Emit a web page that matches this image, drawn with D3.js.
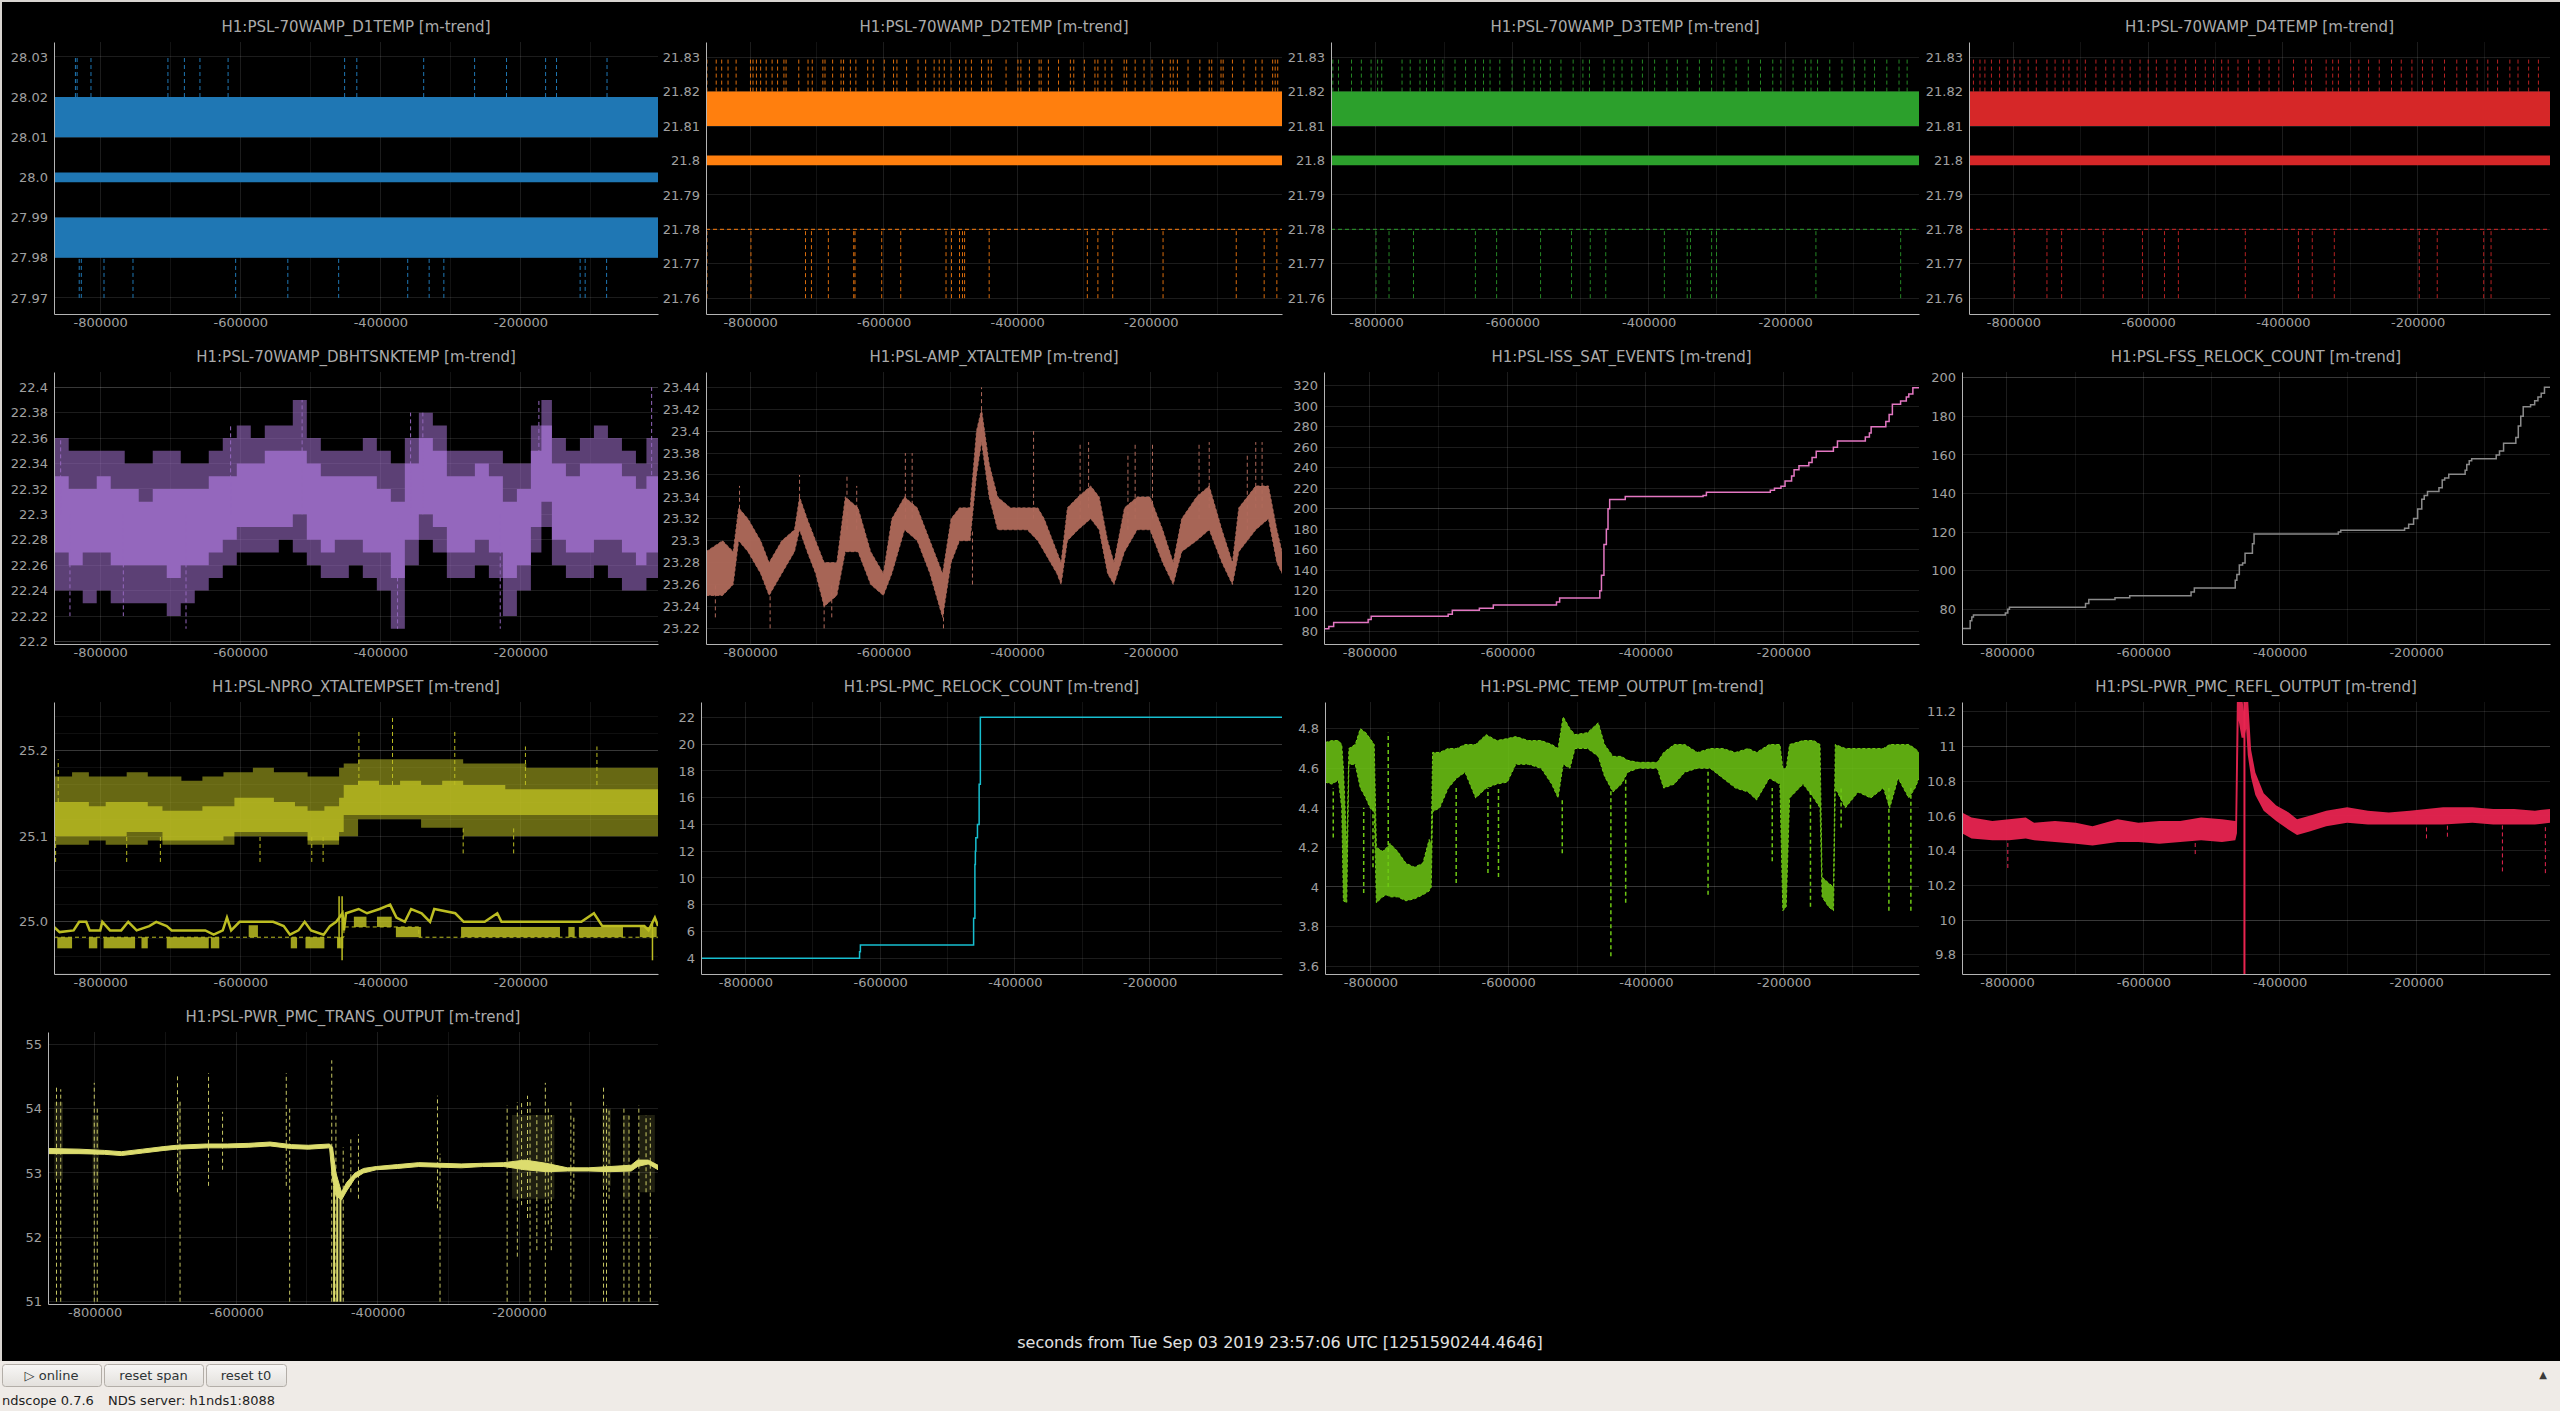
<!DOCTYPE html>
<html>
<head>
<meta charset="utf-8">
<script src="https://cdn.jsdelivr.net/npm/d3@7"></script>
<style>
  html, body { margin: 0; padding: 0; background: #efebe7; }
  svg { display: block; }
</style>
</head>
<body>
<svg id="scope" width="2560" height="1411"></svg>
<script>
// ---------- shared time axis (seconds from t0) ----------
const xDomain = [-866000, -3500];
const xTickVals = [-800000, -600000, -400000, -200000];
const xTickLabels = ["-800000", "-600000", "-400000", "-200000"];
const xGridVals = [-800000, -700000, -600000, -500000, -400000, -300000, -200000, -100000];

const titles = [
  "H1:PSL-70WAMP_D1TEMP [m-trend]", "H1:PSL-70WAMP_D2TEMP [m-trend]",
  "H1:PSL-70WAMP_D3TEMP [m-trend]", "H1:PSL-70WAMP_D4TEMP [m-trend]",
  "H1:PSL-70WAMP_DBHTSNKTEMP [m-trend]", "H1:PSL-AMP_XTALTEMP [m-trend]",
  "H1:PSL-ISS_SAT_EVENTS [m-trend]", "H1:PSL-FSS_RELOCK_COUNT [m-trend]",
  "H1:PSL-NPRO_XTALTEMPSET [m-trend]", "H1:PSL-PMC_RELOCK_COUNT [m-trend]",
  "H1:PSL-PMC_TEMP_OUTPUT [m-trend]", "H1:PSL-PWR_PMC_REFL_OUTPUT [m-trend]",
  "H1:PSL-PWR_PMC_TRANS_OUTPUT [m-trend]"
];
const colors = ["#1f77b4", "#ff7f0e", "#2ca02c", "#d62728", "#9467bd", "#b06a5b", "#e377c2",
                "#8a8a8a", "#bcbd22", "#17becf", "#6ec814", "#e82450", "#dcdc6e"];

// ---------- D1TEMP ----------
const d1Ticks = [27.97, 27.98, 27.99, 28.0, 28.01, 28.02, 28.03];
const d1Labels = ["27.97", "27.98", "27.99", "28.0", "28.01", "28.02", "28.03"];
const d1MaxBand = [28.01, 28.02];
const d1MinBand = [27.98, 27.99];
const d1MeanBand = [27.9988, 28.0012];
const d1MaxSpikeT = [-835400, -833000, -813200, -703300, -679800, -657600, -617400, -451000, -433600,
                     -338100, -265400, -219800, -164000, -148400, -76300];
const d1MinSpikeT = [-830000, -827000, -794600, -753200, -606600, -532100, -459500, -360900, -330300,
                     -309300, -114700, -107500, -76900];

// ---------- D2/D3/D4TEMP (same quantisation levels) ----------
const dTicks = [21.76, 21.77, 21.78, 21.79, 21.8, 21.81, 21.82, 21.83];
const dLabels = ["21.76", "21.77", "21.78", "21.79", "21.8", "21.81", "21.82", "21.83"];
const dMaxBand = [21.81, 21.82];
const dMeanBand = [21.7986, 21.8014];
const dMinLevel = [21.78, 21.78];
const dSpikeTop = 21.83, dSpikeBottom = 21.76;
const d2MaxSpikeT = [-864600, -850700, -842500, -833000, -820900, -799400, -795600, -790500, -784200, -775900,
  -767000, -758800, -749300, -746100, -727100, -713200, -706900, -691000, -687800, -676400, -663800, -660000,
  -649800, -641600, -623900, -615600, -599100, -585200, -580100, -565600, -548500, -537100, -524400, -516800,
  -509200, -499000, -486400, -476900, -468600, -453400, -443300, -438800, -416700, -398900, -394500, -381800,
  -367200, -364100, -353300, -338100, -320400, -315300, -299500, -283600, -279200, -268400, -258300, -239900,
  -236100, -223400, -210100, -198100, -182200, -170800, -166400, -160100, -144200, -126500, -112500, -108700,
  -94800, -91600, -77700, -60600, -42800, -33300, -17500, -13700, -9900];
const d2MinSpikeT = [-864600, -798700, -717000, -708100, -682800, -644800, -642900, -602900, -574400, -506600,
  -498400, -486400, -481900, -478800, -442000, -295000, -279200, -257000, -181600, -72000, -30200, -11200];
const d3MaxSpikeT = [-863300, -855000, -835900, -821500, -807200, -797600, -791600, -761800, -749800, -735500,
  -725900, -714000, -702000, -684100, -668600, -654200, -642300, -632700, -618400, -600400, -582500, -568200,
  -558600, -544300, -528700, -510800, -496500, -486900, -465400, -451000, -439100, -424800, -409200, -391300,
  -373400, -357900, -343500, -325600, -307700, -289700, -271800, -253900, -236000, -218000, -206100, -188200,
  -170200, -161900, -152300, -134400, -116500, -98500, -83000, -68700, -50700, -32800, -20900];
const d3MinSpikeT = [-800000, -780900, -745000, -654200, -623100, -558600, -513200, -485700, -463000, -377000,
  -343500, -338700, -307700, -300500, -154700, -30400];
const d4MaxSpikeT = [-859400, -849700, -842400, -832700, -820600, -808500, -798800, -790300, -778200, -766100,
  -750300, -738200, -726100, -717600, -705500, -693300, -677600, -663000, -650900, -638800, -626700, -612100,
  -600000, -587900, -572100, -560000, -544300, -529700, -515200, -503100, -490900, -481200, -466700, -450900,
  -435200, -420600, -406100, -384300, -366100, -357600, -335800, -326100, -317600, -299400, -287300, -272800,
  -257000, -238800, -224300, -208500, -192800, -178200, -160100, -141900, -127300, -111600, -95800, -81300,
  -63100, -51000, -35200, -20700];
const d4MinSpikeT = [-798800, -750300, -728500, -666700, -608500, -575800, -555200, -455800, -377000, -356400,
  -323700, -197600, -170900, -101900, -91000];

// ---------- DBHTSNKTEMP ----------
const p5Ticks = [22.2, 22.22, 22.24, 22.26, 22.28, 22.3, 22.32, 22.34, 22.36, 22.38, 22.4];
const p5Labels = ["22.2", "22.22", "22.24", "22.26", "22.28", "22.3", "22.32", "22.34", "22.36", "22.38", "22.4"];
const p5T = [-866000, -845000, -825000, -805000, -785000, -765000, -745000, -725000, -705000, -685000,
  -665000, -645000, -625000, -605000, -585000, -565000, -545000, -525000, -505000, -485000,
  -465000, -445000, -425000, -405000, -385000, -365000, -345000, -325000, -305000, -285000,
  -265000, -245000, -225000, -205000, -185000, -170000, -155000, -135000, -115000, -95000,
  -75000, -55000, -35000, -20000, -3500];
const p5CoreLo = [22.27, 22.26, 22.27, 22.27, 22.26, 22.26, 22.26, 22.26, 22.25, 22.26,
  22.26, 22.27, 22.28, 22.29, 22.29, 22.29, 22.29, 22.30, 22.28, 22.27,
  22.28, 22.28, 22.27, 22.27, 22.25, 22.28, 22.30, 22.29, 22.27, 22.27,
  22.28, 22.27, 22.25, 22.26, 22.29, 22.31, 22.28, 22.27, 22.27, 22.28,
  22.28, 22.27, 22.26, 22.27, 22.30];
const p5CoreHi = [22.33, 22.32, 22.32, 22.33, 22.32, 22.32, 22.31, 22.32, 22.32, 22.32,
  22.32, 22.33, 22.33, 22.34, 22.34, 22.35, 22.35, 22.35, 22.34, 22.33,
  22.33, 22.33, 22.33, 22.32, 22.31, 22.34, 22.36, 22.35, 22.33, 22.33,
  22.34, 22.33, 22.31, 22.32, 22.35, 22.37, 22.34, 22.33, 22.34, 22.34,
  22.34, 22.33, 22.32, 22.33, 22.36];
const p5Min = [22.24, 22.24, 22.23, 22.24, 22.23, 22.23, 22.23, 22.23, 22.22, 22.23,
  22.24, 22.25, 22.26, 22.27, 22.27, 22.27, 22.28, 22.27, 22.26, 22.25,
  22.25, 22.26, 22.25, 22.24, 22.21, 22.26, 22.28, 22.27, 22.25, 22.25,
  22.26, 22.25, 22.22, 22.24, 22.27, 22.29, 22.26, 22.25, 22.25, 22.26,
  22.25, 22.24, 22.24, 22.25, 22.28];
const p5Max = [22.36, 22.35, 22.35, 22.35, 22.35, 22.34, 22.34, 22.35, 22.35, 22.34,
  22.34, 22.35, 22.36, 22.37, 22.36, 22.37, 22.37, 22.39, 22.36, 22.35,
  22.35, 22.35, 22.36, 22.35, 22.34, 22.36, 22.38, 22.37, 22.35, 22.35,
  22.35, 22.35, 22.34, 22.34, 22.37, 22.39, 22.36, 22.35, 22.36, 22.37,
  22.36, 22.35, 22.34, 22.36, 22.40];
const p5SpikeT = [-856500, -843200, -767000, -677500, -613800, -511700, -375400, -356800, -339300, -228800, -173600, -12600];
const p5SpikeLo = [22.30, 22.30, 22.30, 22.30, 22.30, 22.30, 22.30, 22.30, 22.30, 22.30, 22.32, 22.32];
const p5SpikeHi = [22.36, 22.22, 22.22, 22.21, 22.37, 22.39, 22.21, 22.38, 22.38, 22.21, 22.39, 22.40];

// ---------- AMP_XTALTEMP ----------
const p6Ticks = [23.22, 23.24, 23.26, 23.28, 23.3, 23.32, 23.34, 23.36, 23.38, 23.4, 23.42, 23.44];
const p6Labels = ["23.22", "23.24", "23.26", "23.28", "23.3", "23.32", "23.34", "23.36", "23.38", "23.4", "23.42", "23.44"];
const p6T = [-866000, -841200, -825300, -817100, -803200, -784200, -771500, -752500, -733500, -725900,
  -714500, -701800, -689100, -670100, -657400, -638400, -619400, -600400, -587700, -568700,
  -549700, -530700, -511700, -499000, -486400, -470500, -461000, -453400, -442000, -429300,
  -410300, -385000, -369200, -359600, -340600, -334300, -324800, -308800, -289900, -277300,
  -264600, -255100, -239300, -220300, -201200, -182200, -166400, -153700, -131500, -112500,
  -93500, -77700, -68200, -42800, -23800, -11200, -3500];
const p6Lo = [23.25, 23.25, 23.26, 23.30, 23.29, 23.27, 23.25, 23.27, 23.29, 23.31,
  23.29, 23.27, 23.24, 23.25, 23.29, 23.29, 23.26, 23.25, 23.27, 23.31,
  23.30, 23.27, 23.23, 23.28, 23.30, 23.30, 23.36, 23.39, 23.34, 23.31,
  23.31, 23.31, 23.30, 23.29, 23.27, 23.26, 23.30, 23.31, 23.32, 23.31,
  23.27, 23.26, 23.29, 23.31, 23.31, 23.28, 23.26, 23.29, 23.30, 23.31,
  23.28, 23.26, 23.29, 23.31, 23.32, 23.28, 23.27];
const p6Hi = [23.29, 23.30, 23.29, 23.33, 23.32, 23.30, 23.28, 23.30, 23.31, 23.34,
  23.32, 23.30, 23.28, 23.28, 23.34, 23.33, 23.29, 23.27, 23.32, 23.34,
  23.33, 23.30, 23.27, 23.32, 23.33, 23.33, 23.40, 23.42, 23.37, 23.34,
  23.33, 23.33, 23.33, 23.32, 23.29, 23.28, 23.33, 23.34, 23.35, 23.34,
  23.30, 23.28, 23.33, 23.34, 23.34, 23.31, 23.28, 23.32, 23.34, 23.35,
  23.31, 23.28, 23.33, 23.35, 23.35, 23.31, 23.29];
const p6SpikeT = [-852000, -815800, -770000, -725900, -689100, -677700, -654900, -640300, -567500, -557300,
  -510400, -467000, -453400, -375500, -305800, -293100, -234200, -223400, -197400, -127700,
  -112500, -55500, -42800, -33300];
const p6SpikeLo = [23.23, 23.31, 23.22, 23.32, 23.22, 23.23, 23.31, 23.31, 23.32, 23.32,
  23.22, 23.26, 23.40, 23.32, 23.32, 23.33, 23.31, 23.32, 23.32, 23.32,
  23.33, 23.31, 23.33, 23.33];
const p6SpikeHi = [23.26, 23.35, 23.26, 23.36, 23.25, 23.26, 23.36, 23.35, 23.38, 23.38,
  23.25, 23.31, 23.44, 23.40, 23.39, 23.39, 23.38, 23.39, 23.39, 23.39,
  23.39, 23.38, 23.39, 23.39];

// ---------- ISS_SAT_EVENTS (step counter) ----------
const p7Ticks = [80, 100, 120, 140, 160, 180, 200, 220, 240, 260, 280, 300, 320];
const p7T = [-866000, -859000, -852000, -802000, -797600, -686000, -680000, -640800, -620600, -529000,
  -524400, -466200, -463800, -460200, -456700, -454300, -451900, -429300, -316500, -311700,
  -219000, -213000, -203600, -197700, -188200, -184600, -177500, -163200, -158500, -152500,
  -127600, -121700, -81300, -75400, -72900, -51600, -46800, -42100, -30200, -21900,
  -18300, -12400, -3500];
const p7V = [83, 85, 89, 92, 95, 97, 101, 103, 106, 109,
  113, 120, 135, 165, 180, 200, 209, 212, 213, 216,
  218, 220, 222, 227, 232, 238, 242, 245, 250, 256,
  260, 266, 270, 274, 280, 285, 292, 302, 305, 309,
  312, 318, 318];

// ---------- FSS_RELOCK_COUNT (step counter) ----------
const p8Ticks = [80, 100, 120, 140, 160, 180, 200];
const p8T = [-866000, -854000, -851600, -849200, -802400, -798800, -796400, -684800, -680000, -641600,
  -620000, -530000, -525200, -465200, -462800, -459200, -454400, -450800, -440000, -437600,
  -314000, -310400, -216800, -210800, -203600, -197600, -191600, -188000, -183200, -166400,
  -161600, -158000, -152000, -128000, -125600, -122000, -118400, -82400, -77600, -71600,
  -53600, -50000, -46400, -42800, -32000, -26000, -21200, -16400, -11600, -3500];
const p8V = [70, 74, 76, 77, 78, 80, 81, 83, 85, 86,
  87, 89, 91, 95, 98, 103, 104, 109, 114, 119,
  120, 121, 122, 124, 127, 132, 137, 139, 141, 143,
  147, 148, 150, 152, 155, 157, 158, 160, 162, 166,
  169, 175, 180, 185, 186, 188, 190, 192, 195, 195];

// ---------- NPRO_XTALTEMPSET ----------
const p9Ticks = [25.0, 25.1, 25.2];
const p9Labels = ["25.0", "25.1", "25.2"];
const p9Minor = [24.94, 24.96, 24.98, 25.02, 25.04, 25.06, 25.08, 25.12, 25.14, 25.16, 25.18, 25.22, 25.24];
const p9UT = [-866000, -840200, -816200, -792200, -762200, -732100, -711100, -684100, -654100, -624000,
  -608400, -582000, -552000, -521900, -503900, -479900, -458900, -452300, -431800, -401800,
  -371800, -341800, -311700, -281700, -251700, -221600, -191600, -161600, -131600, -101500,
  -71500, -41500, -3500];
const p9OutLo = [25.09, 25.09, 25.095, 25.09, 25.09, 25.095, 25.09, 25.09, 25.09, 25.09,
  25.10, 25.10, 25.10, 25.10, 25.09, 25.09, 25.10, 25.10, 25.12, 25.12,
  25.12, 25.11, 25.11, 25.10, 25.10, 25.10, 25.10, 25.10, 25.10, 25.10,
  25.10, 25.10, 25.10];
const p9OutHi = [25.17, 25.175, 25.17, 25.17, 25.175, 25.17, 25.17, 25.165, 25.17, 25.175,
  25.175, 25.18, 25.175, 25.175, 25.17, 25.17, 25.18, 25.185, 25.19, 25.19,
  25.19, 25.19, 25.19, 25.185, 25.185, 25.185, 25.18, 25.18, 25.18, 25.18,
  25.18, 25.18, 25.18];
const p9CoreLo = [25.10, 25.10, 25.10, 25.10, 25.105, 25.105, 25.095, 25.095, 25.095, 25.10,
  25.105, 25.105, 25.105, 25.105, 25.095, 25.095, 25.105, 25.125, 25.125, 25.125,
  25.125, 25.125, 25.125, 25.125, 25.125, 25.125, 25.125, 25.125, 25.125, 25.125,
  25.125, 25.125, 25.125];
const p9CoreHi = [25.14, 25.14, 25.135, 25.14, 25.14, 25.135, 25.13, 25.13, 25.135, 25.135,
  25.145, 25.145, 25.14, 25.135, 25.13, 25.135, 25.145, 25.16, 25.165, 25.16,
  25.165, 25.16, 25.165, 25.16, 25.16, 25.155, 25.155, 25.155, 25.155, 25.155,
  25.155, 25.155, 25.155];
const p9USpikeT = [-863700, -860000, -762200, -714100, -571800, -497900, -481700, -430600, -382600, -293700,
  -281700, -209600, -192800, -90700];
const p9USpikeLo = [25.07, 25.14, 25.07, 25.07, 25.07, 25.07, 25.07, 25.16, 25.16, 25.16, 25.08, 25.08, 25.16, 25.16];
const p9USpikeHi = [25.10, 25.19, 25.10, 25.10, 25.10, 25.10, 25.10, 25.225, 25.24, 25.225, 25.11, 25.11, 25.205, 25.205];
const p9MeanT = [-866000, -858000, -838000, -830000, -820000, -815000, -800000, -797000, -786000, -770000,
  -760000, -748000, -730000, -720000, -705000, -698000, -680000, -650000, -638000, -625000,
  -619000, -613000, -601000, -577000, -553000, -538000, -529000, -517000, -508000, -499000,
  -481000, -472000, -463000, -454000, -452000, -449000, -431000, -419000, -401000, -386000,
  -377000, -365000, -356000, -341000, -329000, -323000, -293000, -281000, -251000, -233000,
  -227000, -161000, -113000, -95000, -83000, -23000, -17000, -8000, -3500];
const p9Mean = [24.994, 24.988, 24.99, 25.0, 25.0, 24.99, 24.99, 25.0, 24.99, 24.99,
  25.0, 24.99, 24.995, 25.0, 24.995, 24.99, 24.99, 24.99, 24.985, 24.99,
  25.005, 24.99, 25.0, 25.0, 25.0, 24.995, 24.985, 24.99, 25.0, 24.99,
  24.985, 24.995, 25.0, 25.01, 24.99, 25.01, 25.015, 25.01, 25.015, 25.02,
  25.005, 25.0, 25.015, 25.01, 25.0, 25.015, 25.01, 25.0, 25.0, 25.01,
  25.0, 25.0, 25.0, 25.01, 24.995, 24.995, 24.99, 25.005, 24.995];
const p9BlockStart = [-861300, -816200, -795200, -741100, -705100, -642000, -588000, -527900, -506900, -461900,
  -437800, -404800, -377800, -284700, -131500, -116500, -29400];
const p9BlockEnd = [-840200, -804200, -750200, -732100, -645000, -630000, -574800, -518900, -479900, -452900,
  -419800, -383800, -341800, -143500, -122500, -53500, -5400];
const p9BlockLo = [24.969, 24.969, 24.969, 24.969, 24.969, 24.969, 24.982, 24.969, 24.969, 24.969,
  24.994, 24.994, 24.982, 24.982, 24.982, 24.982, 24.982];
const p9BlockHi = [24.982, 24.982, 24.982, 24.982, 24.982, 24.982, 24.996, 24.982, 24.982, 24.982,
  25.006, 25.006, 24.994, 24.994, 24.994, 24.994, 24.994];
const p9MinT = [-866000, -452000, -345000, -3500];
const p9MinV = [24.982, 24.994, 24.982, 24.982];
const p9LSpikeT = [-458900, -454600, -11400];
const p9LSpikeLo = [24.97, 24.955, 24.955];
const p9LSpikeHi = [25.03, 25.03, 25.0];

// ---------- PMC_RELOCK_COUNT (step counter) ----------
const p10Ticks = [4, 6, 8, 10, 12, 14, 16, 18, 20, 22];
const p10T = [-866000, -630600, -629400, -461300, -459400, -458700, -458000, -455600, -453100, -451300, -3500];
const p10V = [4, 4.5, 5, 7, 11, 12, 13, 14, 17, 22, 22];

// ---------- PMC_TEMP_OUTPUT ----------
const p11Ticks = [3.6, 3.8, 4.0, 4.2, 4.4, 4.6, 4.8];
const p11Labels = ["3.6", "3.8", "4", "4.2", "4.4", "4.6", "4.8"];
const p11T = [-866000, -855800, -846600, -841700, -839300, -834400, -831300, -822100, -814700, -806700,
  -800600, -794500, -791400, -782200, -776100, -771800, -760700, -748500, -736200, -723900,
  -714700, -711700, -709800, -699400, -687100, -674800, -662600, -647200, -631900, -616600,
  -601200, -589000, -570600, -552100, -536800, -527600, -520200, -510400, -503000, -484700,
  -469300, -460100, -447800, -435600, -426400, -411000, -383400, -374200, -358900, -343600,
  -325200, -306700, -288300, -269900, -251500, -239300, -220900, -205500, -201200, -196300,
  -191400, -171800, -156400, -147200, -144200, -134900, -127600, -125100, -110400, -92000,
  -73600, -55200, -46000, -33800, -18400, -9200, -3500];
const p11Lo = [4.53, 4.52, 4.54, 4.40, 3.93, 3.92, 4.62, 4.62, 4.50, 4.45,
  4.40, 4.38, 3.92, 3.95, 3.96, 3.95, 3.95, 3.93, 3.94, 3.96,
  3.98, 4.00, 4.38, 4.40, 4.50, 4.55, 4.58, 4.45, 4.50, 4.52,
  4.53, 4.62, 4.62, 4.60, 4.52, 4.45, 4.62, 4.60, 4.70, 4.70,
  4.66, 4.56, 4.48, 4.52, 4.58, 4.60, 4.60, 4.50, 4.52, 4.58,
  4.60, 4.60, 4.55, 4.50, 4.48, 4.44, 4.55, 4.52, 3.88, 3.90,
  4.45, 4.52, 4.45, 4.40, 3.95, 3.90, 3.88, 4.50, 4.40, 4.48,
  4.45, 4.50, 4.40, 4.55, 4.45, 4.50, 4.55];
const p11Hi = [4.73, 4.74, 4.74, 4.72, 4.60, 4.20, 4.70, 4.72, 4.80, 4.78,
  4.75, 4.72, 4.20, 4.18, 4.20, 4.22, 4.18, 4.12, 4.10, 4.12,
  4.24, 4.22, 4.68, 4.68, 4.70, 4.70, 4.72, 4.72, 4.77, 4.74,
  4.75, 4.76, 4.74, 4.74, 4.72, 4.70, 4.86, 4.80, 4.77, 4.78,
  4.83, 4.72, 4.66, 4.66, 4.64, 4.63, 4.63, 4.68, 4.72, 4.72,
  4.68, 4.70, 4.70, 4.68, 4.70, 4.68, 4.72, 4.72, 4.60, 4.60,
  4.72, 4.74, 4.74, 4.72, 4.05, 4.02, 4.00, 4.72, 4.70, 4.70,
  4.70, 4.70, 4.72, 4.72, 4.72, 4.70, 4.68];
const p11SpikeT = [-854000, -809800, -796300, -774200, -675500, -629400, -614100, -521500, -450900, -429400,
  -309800, -216600, -161100, -116600, -47200, -15300];
const p11SpikeLo = [4.25, 3.97, 4.10, 4.00, 4.02, 4.07, 4.05, 4.17, 3.65, 3.92, 3.96, 4.13, 3.90, 4.30, 3.88, 3.88];
const p11SpikeHi = [4.50, 4.40, 4.40, 4.78, 4.50, 4.50, 4.50, 4.45, 4.50, 4.55, 4.60, 4.50, 4.50, 4.50, 4.50, 4.50];

// ---------- PWR_PMC_REFL_OUTPUT ----------
const p12Ticks = [9.8, 10.0, 10.2, 10.4, 10.6, 10.8, 11.0, 11.2];
const p12Labels = ["9.8", "10", "10.2", "10.4", "10.6", "10.8", "11", "11.2"];
const p12T = [-866000, -852000, -821400, -797000, -772500, -760200, -729600, -699000, -674500, -637800,
  -607200, -576500, -545900, -515300, -484700, -465100, -462700, -460200, -455900, -452300,
  -449200, -446800, -441900, -435700, -423500, -405100, -386800, -374500, -356200, -331700,
  -301100, -270500, -239900, -209300, -160300, -117400, -86800, -56200, -25600, -3500];
const p12Lo = [10.50, 10.47, 10.46, 10.46, 10.47, 10.46, 10.45, 10.44, 10.43, 10.45,
  10.45, 10.44, 10.45, 10.46, 10.45, 10.46, 10.50, 11.15, 11.05, 11.05,
  11.10, 10.95, 10.82, 10.72, 10.63, 10.57, 10.52, 10.49, 10.51, 10.54,
  10.56, 10.55, 10.55, 10.55, 10.55, 10.56, 10.55, 10.55, 10.55, 10.56];
const p12Hi = [10.62, 10.59, 10.57, 10.58, 10.59, 10.56, 10.57, 10.56, 10.54, 10.58,
  10.56, 10.57, 10.57, 10.59, 10.58, 10.57, 11.30, 11.30, 11.30, 11.20,
  11.30, 11.30, 10.98, 10.85, 10.73, 10.66, 10.62, 10.58, 10.60, 10.63,
  10.65, 10.63, 10.62, 10.63, 10.65, 10.65, 10.64, 10.64, 10.63, 10.64];
const p12SpikeT = [-798800, -523900, -184700, -154000, -73300, -10300];
const p12SpikeLo = [10.30, 10.38, 10.47, 10.48, 10.28, 10.27];
const p12SpikeHi = [10.46, 10.45, 10.55, 10.55, 10.55, 10.55];
const p12DropT = [-451700];
const p12DropLo = [9.6];
const p12DropHi = [11.3];

// ---------- PWR_PMC_TRANS_OUTPUT ----------
const p13Ticks = [51, 52, 53, 54, 55];
const p13T = [-866000, -822200, -786200, -762200, -732100, -702100, -684100, -642000, -612000, -582000,
  -552000, -521900, -497900, -467900, -463700, -458900, -451000, -443800, -431800, -419800,
  -401800, -371800, -341800, -311700, -281700, -251700, -221600, -191600, -161600, -131600,
  -101500, -71500, -41500, -32400, -17400, -3500];
const p13Lo = [53.30, 53.30, 53.29, 53.27, 53.31, 53.35, 53.37, 53.39, 53.39, 53.40,
  53.42, 53.38, 53.37, 53.39, 52.90, 52.65, 52.58, 52.72, 52.92, 53.00,
  53.05, 53.07, 53.10, 53.09, 53.08, 53.10, 53.10, 53.05, 53.02, 53.03,
  53.03, 53.02, 53.03, 53.10, 53.14, 53.05];
const p13Hi = [53.38, 53.37, 53.35, 53.33, 53.37, 53.41, 53.43, 53.45, 53.45, 53.46,
  53.48, 53.44, 53.43, 53.45, 53.40, 53.00, 52.70, 52.85, 53.00, 53.07,
  53.10, 53.13, 53.16, 53.15, 53.14, 53.15, 53.16, 53.20, 53.15, 53.08,
  53.08, 53.10, 53.12, 53.20, 53.20, 53.12];
const p13SpikeT = [-854000, -848000, -800600, -796400, -682900, -679300, -639000, -619200, -529100, -524300,
  -464800, -458900, -448600, -437800, -427000, -315300, -311700, -216800, -202400, -196400,
  -188000, -184400, -174800, -162800, -158600, -154400, -126700, -122500, -80500, -76300,
  -72700, -51700, -44500, -30600, -20400, -14400];
const p13SpikeLo = [51.0, 51.0, 51.0, 51.0, 52.7, 51.0, 52.8, 53.05, 52.8, 51.0,
  51.0, 51.0, 51.0, 52.7, 52.6, 52.45, 51.0, 51.0, 51.7, 52.5,
  52.3, 51.0, 51.8, 51.0, 52.2, 51.8, 51.0, 52.6, 51.0, 51.0,
  52.6, 51.0, 51.0, 51.0, 52.7, 51.0];
const p13SpikeHi = [54.35, 54.3, 54.4, 54.0, 54.5, 54.15, 54.55, 53.95, 54.55, 54.0,
  54.75, 53.9, 53.4, 53.55, 53.6, 54.2, 53.3, 54.05, 54.1, 54.1,
  54.2, 54.1, 53.9, 54.4, 54.05, 53.9, 54.1, 53.9, 54.35, 54.05,
  54.0, 54.0, 53.9, 54.05, 53.9, 53.85];
const p13DipT = [-461500, -457000, -452500];
const p13DipLo = [51.0, 51.0, 51.0];
const p13DipHi = [52.8, 52.7, 52.7];
const p13ClusterStart = [-857000, -803000, -683000, -210000, -82000, -53000, -30000];
const p13ClusterEnd = [-845000, -794000, -678000, -150000, -70000, -44000, -8000];
const p13ClusterLo = [52.9, 52.8, 53.0, 52.6, 52.8, 52.6, 52.7];
const p13ClusterHi = [54.1, 53.9, 54.1, 53.9, 54.0, 53.9, 53.9];

// ---------- layout ----------
const rowTop = [42, 372, 702, 1032];
const rowBottom = [314, 644, 974, 1304];
const colRight = [658, 1282, 1919, 2550];
const FONT = "DejaVu Sans";

const svg = d3.select("#scope");
svg.append("rect").attr("x", 0).attr("y", 0).attr("width", 2560).attr("height", 1361).attr("fill", "#000");
svg.append("rect").attr("x", 0).attr("y", 0).attr("width", 2560).attr("height", 2).attr("fill", "#d8d4d0");
svg.append("rect").attr("x", 0).attr("y", 0).attr("width", 2).attr("height", 1361).attr("fill", "#d8d4d0");

let panelCount = 0;

function styleAxis(sel) {
  sel.select(".domain").attr("stroke", "#b4b4b4").attr("stroke-width", 1);
  sel.selectAll("text").attr("fill", "#a0a0a0").attr("font-size", 13).attr("font-family", FONT);
}

function makePanel(o) {
  const top = rowTop[o.row], bottom = rowBottom[o.row], right = colRight[o.col];
  const x = d3.scaleLinear().domain(xDomain).range([o.left, right]);
  const y = d3.scaleLinear().domain(o.yDomain).range([bottom, top]);
  const g = svg.append("g");

  g.append("g").selectAll("line").data(xGridVals).join("line")
    .attr("x1", d => x(d)).attr("x2", d => x(d)).attr("y1", top).attr("y2", bottom)
    .attr("stroke", "#fff").attr("stroke-opacity", d => xTickVals.includes(d) ? 0.11 : 0.07)
    .attr("shape-rendering", "crispEdges");
  g.append("g").selectAll("line").data(o.minor || []).join("line")
    .attr("x1", o.left).attr("x2", right).attr("y1", d => y(d)).attr("y2", d => y(d))
    .attr("stroke", "#fff").attr("stroke-opacity", 0.06).attr("shape-rendering", "crispEdges");
  g.append("g").selectAll("line").data(o.ticks).join("line")
    .attr("x1", o.left).attr("x2", right).attr("y1", d => y(d)).attr("y2", d => y(d))
    .attr("stroke", "#fff").attr("stroke-opacity", d => (o.major || []).includes(d) ? 0.22 : 0.11)
    .attr("shape-rendering", "crispEdges");

  const clipId = "clip" + (panelCount++);
  svg.append("clipPath").attr("id", clipId).append("rect")
    .attr("x", o.left).attr("y", top).attr("width", right - o.left).attr("height", bottom - top);
  const plot = g.append("g").attr("clip-path", `url(#${clipId})`);

  const labels = o.labels || o.ticks.map(String);
  g.append("g").attr("transform", `translate(${o.left},0)`)
    .call(d3.axisLeft(y).tickValues(o.ticks).tickFormat((d, i) => labels[i]).tickSize(0).tickPadding(6))
    .call(styleAxis);
  g.append("g").attr("transform", `translate(0,${bottom})`)
    .call(d3.axisBottom(x).tickValues(xTickVals).tickFormat((d, i) => xTickLabels[i]).tickSize(0).tickPadding(4))
    .call(styleAxis);

  g.append("text").attr("x", (o.left + right) / 2).attr("y", top - 10)
    .attr("text-anchor", "middle").attr("font-family", FONT).attr("font-size", 15)
    .attr("fill", "#aaaaaa").text(o.title);
  return { plot, x, y };
}

function fillBand(p, band, color, op = 1) {
  p.plot.append("path").datum(xDomain)
    .attr("d", d3.area().x(d => p.x(d)).y0(p.y(band[0])).y1(p.y(band[1])))
    .attr("fill", color).attr("fill-opacity", op);
}

function vSpikes(p, ts, lo, hi, color, dash, width = 1, op = 1) {
  const val = (v, i) => Array.isArray(v) ? v[i] : v;
  p.plot.append("g").selectAll("line").data(ts).join("line")
    .attr("x1", d => p.x(d)).attr("x2", d => p.x(d))
    .attr("y1", (d, i) => p.y(val(lo, i))).attr("y2", (d, i) => p.y(val(hi, i)))
    .attr("stroke", color).attr("stroke-width", width).attr("stroke-opacity", op)
    .attr("stroke-dasharray", dash ? "4,3" : null);
}

function envelope(p, t, lo, hi, color, op, curve = d3.curveLinear) {
  const area = d3.area().x(i => p.x(t[i])).y0(i => p.y(lo[i])).y1(i => p.y(hi[i])).curve(curve);
  p.plot.append("path").datum(d3.range(t.length)).attr("d", area)
    .attr("fill", color).attr("fill-opacity", op);
}

function trace(p, t, v, color, width = 1, dash = null, curve = d3.curveLinear, op = 1) {
  const line = d3.line().x(i => p.x(t[i])).y(i => p.y(v[i])).curve(curve);
  p.plot.append("path").datum(d3.range(t.length)).attr("d", line)
    .attr("fill", "none").attr("stroke", color).attr("stroke-width", width)
    .attr("stroke-opacity", op).attr("stroke-dasharray", dash);
}

function blocks(p, t0, t1, lo, hi, color, op) {
  p.plot.append("g").selectAll("rect").data(t0).join("rect")
    .attr("x", (d, i) => p.x(t0[i])).attr("width", (d, i) => p.x(t1[i]) - p.x(t0[i]))
    .attr("y", (d, i) => p.y(hi[i])).attr("height", (d, i) => p.y(lo[i]) - p.y(hi[i]))
    .attr("fill", color).attr("fill-opacity", op);
}

// ---------- row 1: amplifier diode temperatures ----------
const p1 = makePanel({ row: 0, col: 0, left: 54, title: titles[0], yDomain: [27.966, 28.0337], ticks: d1Ticks, labels: d1Labels });
fillBand(p1, d1MaxBand, colors[0]);
fillBand(p1, d1MinBand, colors[0]);
fillBand(p1, d1MeanBand, colors[0]);
vSpikes(p1, d1MaxSpikeT, d1MaxBand[1], 28.03, colors[0], true);
vSpikes(p1, d1MinSpikeT, 27.97, d1MinBand[0], colors[0], true);

const tempPanels = [
  { col: 1, left: 706, max: d2MaxSpikeT, min: d2MinSpikeT },
  { col: 2, left: 1331, max: d3MaxSpikeT, min: d3MinSpikeT },
  { col: 3, left: 1969, max: d4MaxSpikeT, min: d4MinSpikeT }
];
tempPanels.forEach((tp, k) => {
  const c = colors[k + 1];
  const p = makePanel({ row: 0, col: tp.col, left: tp.left, title: titles[k + 1], yDomain: [21.7554, 21.8344], ticks: dTicks, labels: dLabels });
  vSpikes(p, tp.max, dMaxBand[1], dSpikeTop, c, true, 1, 0.85);
  fillBand(p, dMaxBand, c);
  fillBand(p, dMeanBand, c);
  trace(p, xDomain, dMinLevel, c, 1, "4,3");
  vSpikes(p, tp.min, dSpikeBottom, dMinLevel[0], c, true, 1, 0.85);
});

// ---------- row 2 ----------
const p5 = makePanel({ row: 1, col: 0, left: 54, title: titles[4], yDomain: [22.198, 22.412], ticks: p5Ticks, labels: p5Labels, major: [22.2, 22.4] });
envelope(p5, p5T, p5Min, p5Max, colors[4], 0.62, d3.curveStepAfter);
envelope(p5, p5T, p5CoreLo, p5CoreHi, colors[4], 1, d3.curveStepAfter);
vSpikes(p5, p5SpikeT, p5SpikeLo, p5SpikeHi, colors[4], true);

const p6 = makePanel({ row: 1, col: 1, left: 706, title: titles[5], yDomain: [23.2057, 23.454], ticks: p6Ticks, labels: p6Labels, major: [23.4] });
envelope(p6, p6T, p6Lo, p6Hi, colors[5], 0.95);
trace(p6, p6T, p6Hi, colors[5], 1, "3,2", d3.curveLinear, 0.8);
trace(p6, p6T, p6Lo, colors[5], 1, "3,2", d3.curveLinear, 0.8);
vSpikes(p6, p6SpikeT, p6SpikeLo, p6SpikeHi, colors[5], true);

const p7 = makePanel({ row: 1, col: 2, left: 1324, title: titles[6], yDomain: [68, 333.4], ticks: p7Ticks, major: [200] });
trace(p7, p7T, p7V, colors[6], 1.5, null, d3.curveStepAfter);

const p8 = makePanel({ row: 1, col: 3, left: 1962, title: titles[7], yDomain: [62, 202.95], ticks: p8Ticks, major: [200] });
trace(p8, p8T, p8V, colors[7], 1.5, null, d3.curveStepAfter);

// ---------- row 3 ----------
const p9 = makePanel({ row: 2, col: 0, left: 54, title: titles[8], yDomain: [24.939, 25.257], ticks: p9Ticks, labels: p9Labels, minor: p9Minor, major: [25.0, 25.2] });
envelope(p9, p9UT, p9OutLo, p9OutHi, colors[8], 0.55, d3.curveStepAfter);
envelope(p9, p9UT, p9CoreLo, p9CoreHi, colors[8], 0.8, d3.curveStepAfter);
vSpikes(p9, p9USpikeT, p9USpikeLo, p9USpikeHi, colors[8], true);
blocks(p9, p9BlockStart, p9BlockEnd, p9BlockLo, p9BlockHi, colors[8], 0.85);
trace(p9, p9MinT, p9MinV, colors[8], 1, "4,3", d3.curveStepAfter);
trace(p9, p9MeanT, p9Mean, colors[8], 2.5);
vSpikes(p9, p9LSpikeT, p9LSpikeLo, p9LSpikeHi, colors[8], false, 1.5);

const p10 = makePanel({ row: 2, col: 1, left: 701, title: titles[9], yDomain: [2.83, 23.14], ticks: p10Ticks, major: [20] });
trace(p10, p10T, p10V, colors[9], 1.5, null, d3.curveStepAfter);

const p11 = makePanel({ row: 2, col: 2, left: 1325, title: titles[10], yDomain: [3.56, 4.935], ticks: p11Ticks, labels: p11Labels, major: [4.0] });
envelope(p11, p11T, p11Lo, p11Hi, colors[10], 0.85);
trace(p11, p11T, p11Hi, colors[10], 1, "3,2");
trace(p11, p11T, p11Lo, colors[10], 1, "3,2");
vSpikes(p11, p11SpikeT, p11SpikeLo, p11SpikeHi, colors[10], true, 1.5);

const p12 = makePanel({ row: 2, col: 3, left: 1962, title: titles[11], yDomain: [9.689, 11.256], ticks: p12Ticks, labels: p12Labels, major: [10.0, 11.0] });
envelope(p12, p12T, p12Lo, p12Hi, colors[11], 0.95);
vSpikes(p12, p12SpikeT, p12SpikeLo, p12SpikeHi, colors[11], true);
vSpikes(p12, p12DropT, p12DropLo, p12DropHi, colors[11], false, 2);

// ---------- row 4 ----------
const p13 = makePanel({ row: 3, col: 0, left: 48, title: titles[12], yDomain: [50.964, 55.19], ticks: p13Ticks });
blocks(p13, p13ClusterStart, p13ClusterEnd, p13ClusterLo, p13ClusterHi, colors[12], 0.14);
vSpikes(p13, p13SpikeT, p13SpikeLo, p13SpikeHi, colors[12], true, 1, 0.9);
vSpikes(p13, p13DipT, p13DipLo, p13DipHi, colors[12], false, 2);
envelope(p13, p13T, p13Lo, p13Hi, colors[12], 1);
trace(p13, p13T, p13Hi, colors[12], 1);
trace(p13, p13T, p13Lo, colors[12], 1);

// ---------- shared x label ----------
svg.append("text").attr("x", 1280).attr("y", 1348).attr("text-anchor", "middle")
  .attr("font-family", FONT).attr("font-size", 16).attr("fill", "#e0e0e0")
  .text("seconds from Tue Sep 03 2019 23:57:06 UTC [1251590244.4646]");

// ---------- bottom toolbar ----------
const grad = svg.append("defs").append("linearGradient").attr("id", "btn").attr("x1", 0).attr("x2", 0).attr("y1", 0).attr("y2", 1);
grad.append("stop").attr("offset", "0%").attr("stop-color", "#f8f7f6");
grad.append("stop").attr("offset", "100%").attr("stop-color", "#e3e0dc");

const buttons = [
  { label: "\u25B7 online", x0: 2, x1: 101 },
  { label: "reset span", x0: 104, x1: 203 },
  { label: "reset t0", x0: 206, x1: 286 }
];
const bar = svg.append("g");
bar.selectAll("rect").data(buttons).join("rect")
  .attr("x", d => d.x0 + 0.5).attr("y", 1364.5).attr("width", d => d.x1 - d.x0).attr("height", 22)
  .attr("rx", 3).attr("fill", "url(#btn)").attr("stroke", "#b3aea8");
bar.selectAll("text").data(buttons).join("text")
  .attr("x", d => (d.x0 + d.x1) / 2).attr("y", 1380).attr("text-anchor", "middle")
  .attr("font-family", FONT).attr("font-size", 13).attr("fill", "#2e3436")
  .text(d => d.label);
svg.append("text").attr("x", 2543).attr("y", 1378).attr("text-anchor", "middle")
  .attr("font-family", FONT).attr("font-size", 10).attr("fill", "#3a3a3a").text("\u25B2");

svg.append("text").attr("x", 2).attr("y", 1405).attr("font-family", FONT).attr("font-size", 13)
  .attr("fill", "#1e1e1e").text("ndscope 0.7.6");
svg.append("text").attr("x", 108).attr("y", 1405).attr("font-family", FONT).attr("font-size", 13)
  .attr("fill", "#1e1e1e").text("NDS server: h1nds1:8088");
</script>
</body>
</html>
